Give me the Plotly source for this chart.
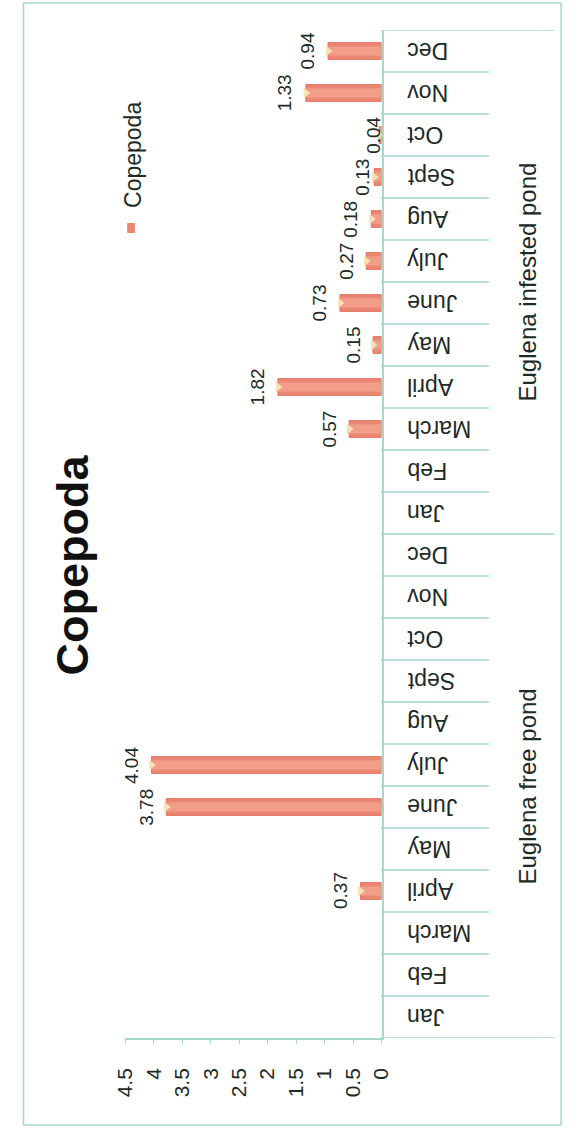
import plotly.graph_objects as go

# ---- data -------------------------------------------------------------
months = ["Jan", "Feb", "March", "April", "May", "June",
          "July", "Aug", "Sept", "Oct", "Nov", "Dec"]
ponds = ["Euglena free pond", "Euglena infested pond"]
free_pond = [None, None, None, 0.37, None, 3.78, 4.04, None, None, None, None, None]
infested_pond = [None, None, 0.57, 1.82, 0.15, 0.73, 0.27, 0.18, 0.13, 0.04, 1.33, 0.94]
value_ticks = [0, 0.5, 1, 1.5, 2, 2.5, 3, 3.5, 4, 4.5]
series_name = "Copepoda"

# ---- layout constants ----------------------------------------------
W, H = 574, 1129
FONT = "Liberation Sans, Arial, sans-serif"
TEXT = "#1d2b27"
LINE = "#a3d9cb"
BAR = "#ec8674"
BAR_EDGE = "#e07563"
BAR_HI = "#f29d8a"
TIP = "#f5e4b0"

def px(x):
    return x / W

def py(y):
    return 1 - y / H

labels = [m for _ in ponds for m in months]
values = free_pond + infested_pond
pos = list(range(len(values)))
bx = [v for v in values if v is not None]
by = [p for p, v in zip(pos, values) if v is not None]

fig = go.Figure()
fig.add_trace(go.Bar(
    x=bx, y=by, orientation="h", width=0.4,
    marker=dict(color=BAR, line=dict(color=BAR_EDGE, width=1)),
    hoverinfo="skip", showlegend=False))
fig.add_trace(go.Bar(
    x=bx, y=by, orientation="h", width=0.22,
    marker=dict(color=BAR_HI, line=dict(width=0)),
    hoverinfo="skip", showlegend=False))
fig.add_trace(go.Scatter(
    x=bx, y=by, mode="markers",
    marker=dict(symbol="triangle-right", size=9, color=TIP, line=dict(width=0)),
    hoverinfo="skip", showlegend=False))

# value labels, rotated, beyond the end of each bar
extra_shift = {pos[-4]: 9, pos[-3]: 15}
for p, v in zip(by, bx):
    fig.add_annotation(
        x=v, y=p, xref="x", yref="y", text=f"{v:.2f}", showarrow=False,
        textangle=-90, xanchor="right", yanchor="middle",
        xshift=-8 + extra_shift.get(p, 0),
        font=dict(family=FONT, size=19, color=TEXT))

# category labels (upside down) and separators
for p, lab in zip(pos, labels):
    fig.add_annotation(
        x=px(410), y=p, xref="paper", yref="y", text=lab, showarrow=False,
        textangle=180, xanchor="left", yanchor="middle",
        font=dict(family=FONT, size=23, color=TEXT))

n = len(months)
for b in range(len(values) + 1):
    long_line = b % n == 0
    fig.add_shape(type="line", xref="paper", yref="y",
                  x0=px(384), x1=px(565 if long_line else 497),
                  y0=b - 0.5, y1=b - 0.5,
                  line=dict(color=LINE, width=1.5))

for g, name in enumerate(ponds):
    fig.add_annotation(
        x=px(537), y=g * n + (n - 1) / 2, xref="paper", yref="y",
        text=name, showarrow=False, textangle=-90,
        xanchor="center", yanchor="middle",
        font=dict(family=FONT, size=24, color=TEXT))

# title
fig.add_annotation(
    x=px(62), y=py(565), xref="paper", yref="paper",
    text=f"<b>{series_name}</b>", showarrow=False, textangle=-90,
    xanchor="center", yanchor="middle",
    font=dict(family=FONT, size=45, color="#111111"))

# legend
fig.add_annotation(
    x=px(126), y=py(155), xref="paper", yref="paper",
    text=series_name, showarrow=False, textangle=-90,
    xanchor="center", yanchor="middle",
    font=dict(family=FONT, size=23, color=TEXT))
fig.add_shape(type="rect", xref="paper", yref="paper",
              x0=px(120), x1=px(128), y0=py(233), y1=py(223),
              line=dict(width=0), fillcolor=BAR)

# outer frame
fig.add_shape(type="rect", xref="paper", yref="paper",
              x0=px(12), x1=px(572), y0=py(1125), y1=py(3),
              line=dict(color=LINE, width=1.5), fillcolor="rgba(0,0,0,0)",
              layer="below")

fig.update_layout(
    width=W, height=H,
    margin=dict(l=0, r=0, t=0, b=0),
    paper_bgcolor="white", plot_bgcolor="white",
    barmode="overlay", showlegend=False,
    xaxis=dict(
        domain=[px(118), px(385)], range=[4.5, 0],
        tickvals=value_ticks, ticktext=[f"{t:g}" for t in value_ticks],
        tickangle=-90, ticks="outside", ticklen=4, tickcolor=LINE,
        ticklabelstandoff=16,
        showline=True, linecolor=LINE, linewidth=1.5,
        showgrid=False, zeroline=False, fixedrange=True,
        tickfont=dict(family=FONT, size=21, color=TEXT)),
    yaxis=dict(
        domain=[py(1038), py(30)], range=[-0.5, len(values) - 0.5],
        side="right", showticklabels=False, ticks="",
        showline=True, linecolor=LINE, linewidth=1.5,
        showgrid=False, zeroline=False, fixedrange=True),
)

fig.write_html("out.html")
